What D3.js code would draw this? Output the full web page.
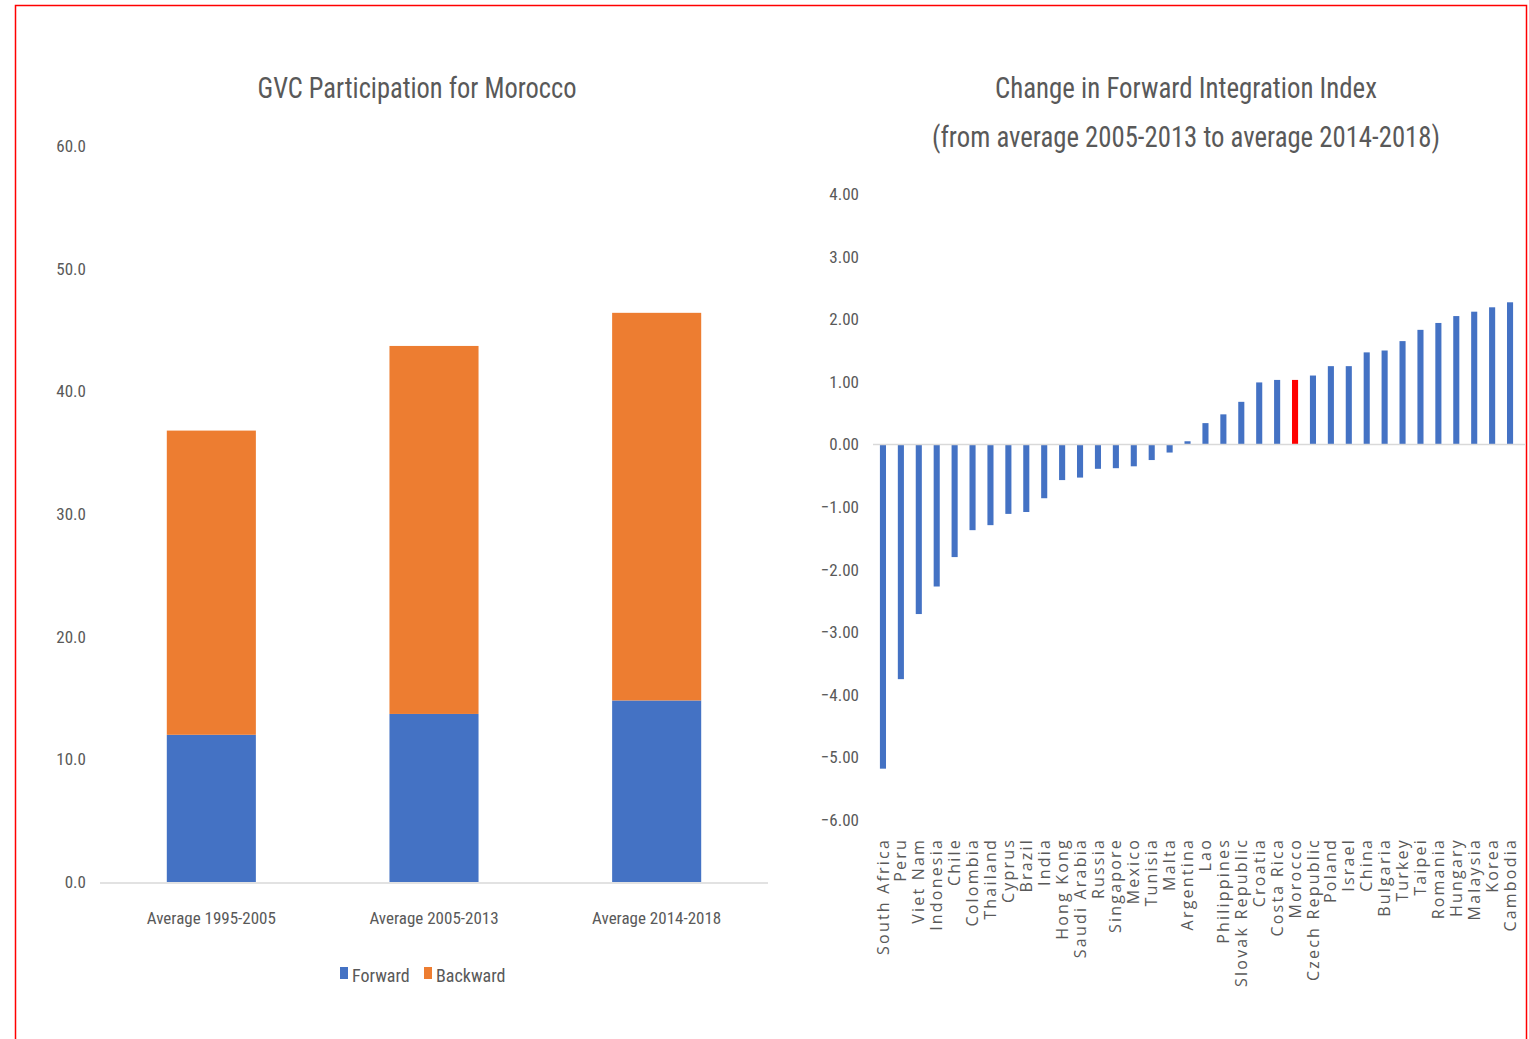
<!DOCTYPE html>
<html>
<head>
<meta charset="utf-8">
<style>
  body { margin: 0; background: #fff; }
  text { fill: #595959; }
  .narrow { font-family: "Liberation Sans Narrow", "Roboto Condensed", "DejaVu Sans Condensed", sans-serif; }
</style>
</head>
<body>
<div id="chart"></div>
<script src="https://cdn.jsdelivr.net/npm/d3@7"></script>
<script>
// ---- data: left chart
var periods = ["Average 1995-2005", "Average 2005-2013", "Average 2014-2018"];
var forward = [12.0, 13.7, 14.8];
var backward = [24.8, 30.0, 31.6];
var leftTicks = [0, 10, 20, 30, 40, 50, 60];

// ---- data: right chart
var countries = ["South Africa", "Peru", "Viet Nam", "Indonesia", "Chile", "Colombia", "Thailand",
  "Cyprus", "Brazil", "India", "Hong Kong", "Saudi Arabia", "Russia", "Singapore", "Mexico",
  "Tunisia", "Malta", "Argentina", "Lao", "Philippines", "Slovak Republic", "Croatia",
  "Costa Rica", "Morocco", "Czech Republic", "Poland", "Israel", "China", "Bulgaria", "Turkey",
  "Taipei", "Romania", "Hungary", "Malaysia", "Korea", "Cambodia"];
var change = [-5.18, -3.75, -2.71, -2.27, -1.80, -1.37, -1.29, -1.11, -1.08, -0.86, -0.57, -0.53,
  -0.39, -0.38, -0.35, -0.25, -0.13, 0.05, 0.34, 0.48, 0.68, 0.99, 1.03, 1.03, 1.10, 1.25, 1.25,
  1.47, 1.50, 1.65, 1.83, 1.94, 2.05, 2.12, 2.19, 2.27];
var rightTicks = [-6, -5, -4, -3, -2, -1, 0, 1, 2, 3, 4];
var highlight = "Morocco";

var blue = "#4472c4", orange = "#ed7d31";

var svg = d3.select("#chart").append("svg")
    .attr("width", 1529)
    .attr("height", 1039);

// frame
svg.append("rect")
    .attr("x", 15.5).attr("y", 5.5)
    .attr("width", 1511).attr("height", 1050)
    .attr("fill", "none")
    .attr("stroke", "#ff0000")
    .attr("stroke-width", 1.5);

// ================= left chart =================
var x1 = d3.scaleBand()
    .domain(periods)
    .range([100, 768])
    .paddingInner(0.6)
    .paddingOuter(0.3);

var y1 = d3.scaleLinear().domain([0, 60]).range([882, 146]);

var left = svg.append("g");

left.append("text")
    .attr("class", "narrow")
    .attr("x", 417).attr("y", 98)
    .attr("text-anchor", "middle")
    .attr("font-size", 30)
    .attr("textLength", 319)
    .attr("lengthAdjust", "spacingAndGlyphs")
    .text("GVC Participation for Morocco");

// y tick labels
left.selectAll(".ytick").data(leftTicks).enter().append("text")
    .attr("class", "narrow")
    .attr("x", 86)
    .attr("y", function(d) { return y1(d); })
    .attr("dy", "0.35em")
    .attr("text-anchor", "end")
    .attr("font-size", 17)
    .text(function(d) { return d3.format(".1f")(d); });

// stacked bars
var stackData = periods.map(function(p, i) { return { period: p, Forward: forward[i], Backward: backward[i] }; });
var series = d3.stack().keys(["Forward", "Backward"])(stackData);
var colors = { Forward: blue, Backward: orange };

left.selectAll(".series").data(series).enter().append("g")
    .attr("fill", function(s) { return colors[s.key]; })
  .selectAll("rect").data(function(s) { return s; }).enter().append("rect")
    .attr("x", function(d) { return x1(d.data.period); })
    .attr("width", x1.bandwidth())
    .attr("y", function(d) { return y1(d[1]); })
    .attr("height", function(d) { return y1(d[0]) - y1(d[1]); });

// baseline
left.append("line")
    .attr("x1", 100).attr("x2", 768)
    .attr("y1", y1(0) + 1).attr("y2", y1(0) + 1)
    .attr("stroke", "#d9d9d9").attr("stroke-width", 1.5);

// category labels
left.selectAll(".xlab").data(periods).enter().append("text")
    .attr("class", "narrow")
    .attr("x", function(d) { return x1(d) + x1.bandwidth() / 2; })
    .attr("y", 924)
    .attr("text-anchor", "middle")
    .attr("font-size", 17)
    .text(function(d) { return d; });

// legend
var legend = left.append("g");
var legItems = [{ k: "Forward", x: 340 }, { k: "Backward", x: 424 }];
legend.selectAll("rect").data(legItems).enter().append("rect")
    .attr("x", function(d) { return d.x; })
    .attr("y", 967)
    .attr("width", 8).attr("height", 12)
    .attr("fill", function(d) { return colors[d.k]; });
legend.selectAll("text").data(legItems).enter().append("text")
    .attr("class", "narrow")
    .attr("x", function(d) { return d.x + 12; })
    .attr("y", 982)
    .attr("font-size", 18)
    .text(function(d) { return d.k; });

// ================= right chart =================
var x2 = d3.scaleBand()
    .domain(countries)
    .range([874, 1519])
    .paddingInner(0.66)
    .paddingOuter(0.33);

var y2 = d3.scaleLinear().domain([-6, 4]).range([820, 194]);

var right = svg.append("g");

right.append("text")
    .attr("class", "narrow")
    .attr("x", 1186).attr("y", 98)
    .attr("text-anchor", "middle")
    .attr("font-size", 30)
    .attr("textLength", 382)
    .attr("lengthAdjust", "spacingAndGlyphs")
    .text("Change in Forward Integration Index");

right.append("text")
    .attr("class", "narrow")
    .attr("x", 1186).attr("y", 147)
    .attr("text-anchor", "middle")
    .attr("font-size", 30)
    .attr("textLength", 508)
    .attr("lengthAdjust", "spacingAndGlyphs")
    .text("(from average 2005-2013 to average 2014-2018)");

right.selectAll(".ytick").data(rightTicks).enter().append("text")
    .attr("class", "narrow")
    .attr("x", 859)
    .attr("y", function(d) { return y2(d); })
    .attr("dy", "0.35em")
    .attr("text-anchor", "end")
    .attr("font-size", 17)
    .text(function(d) { return d3.format(".2f")(d); });

right.selectAll(".bar").data(countries).enter().append("rect")
    .attr("x", function(d) { return x2(d); })
    .attr("width", x2.bandwidth())
    .attr("y", function(d, i) { return y2(Math.max(0, change[i])); })
    .attr("height", function(d, i) { return Math.abs(y2(change[i]) - y2(0)); })
    .attr("fill", function(d) { return d === highlight ? "#ff0000" : blue; });

right.append("line")
    .attr("x1", 873).attr("x2", 1526)
    .attr("y1", y2(0)).attr("y2", y2(0))
    .attr("stroke", "#d9d9d9").attr("stroke-width", 1.5);

right.selectAll(".clab").data(countries).enter().append("text")
    .attr("transform", function(d) { return "translate(" + (x2(d) + x2.bandwidth() / 2) + ",838) rotate(-90)"; })
    .attr("dy", "0.35em")
    .attr("text-anchor", "end")
    .attr("font-family", "'Open Sans', sans-serif")
    .attr("font-size", 16)
    .attr("letter-spacing", 2.2)
    .text(function(d) { return d; });
</script>
</body>
</html>
